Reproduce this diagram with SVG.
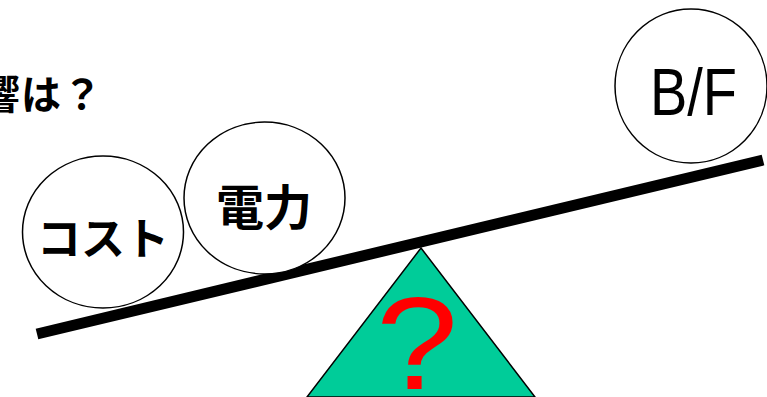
<svg xmlns="http://www.w3.org/2000/svg" width="767" height="397" viewBox="0 0 767 397">
<style>
.c{fill:#fff;stroke:#000;stroke-width:1.5}
.jp{font-family:"Noto Sans CJK JP","Noto Sans CJK SC",sans-serif;font-weight:bold;fill:#000}
</style>
<rect width="767" height="397" fill="#fff"/>
<g id="title"><text class="jp" x="-20" y="109" font-size="40" letter-spacing="1">響は？</text></g>
<g id="fulcrum">
<polygon points="421,248 307,397 535,397" fill="#00CC99" stroke="#000" stroke-width="1.5"/>
<text x="417" y="389" font-family="Liberation Sans,Arial,sans-serif" font-size="132" fill="#f00" text-anchor="middle" textLength="82" lengthAdjust="spacingAndGlyphs">?</text>
</g>
<g id="connectors"><line x1="37" y1="334" x2="763" y2="160" stroke="#000" stroke-width="11"/></g>
<g id="cost"><ellipse class="c" cx="103" cy="232" rx="80.5" ry="76"/>
<text class="jp" x="103" y="236" font-size="44" text-anchor="middle" dominant-baseline="central">コスト</text></g>
<g id="power"><ellipse class="c" cx="264.5" cy="198" rx="80.5" ry="76"/>
<text class="jp" x="264" y="204" font-size="48" text-anchor="middle" dominant-baseline="central">電力</text></g>
<g id="bf"><ellipse class="c" cx="691" cy="86" rx="76" ry="77"/>
<text x="693.5" y="115" font-family="Liberation Sans,Arial,sans-serif" font-size="66" text-anchor="middle" textLength="87" lengthAdjust="spacingAndGlyphs">B/F</text></g>
</svg>
